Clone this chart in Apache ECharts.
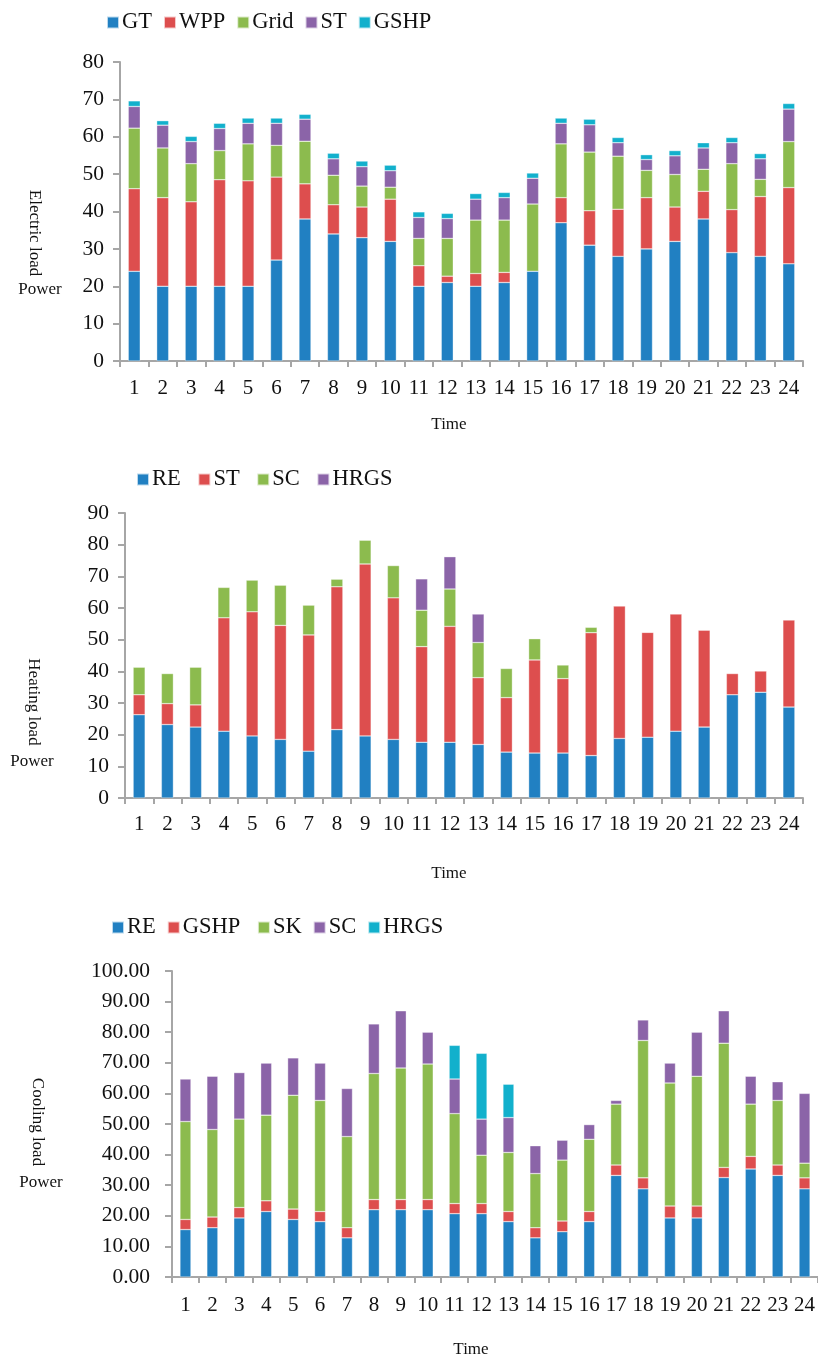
<!DOCTYPE html>
<html>
<head>
<meta charset="utf-8">
<title>Load Power</title>
<script src="https://cdn.jsdelivr.net/npm/echarts@6/dist/echarts.min.js"></script>
<style>
  html, body { margin: 0; padding: 0; background: #fff; }
  #main { width: 818px; height: 1358px; }
</style>
</head>
<body>
<div id="main"></div>
<script>
// hours 1..24
var hours = [];
for (var h = 1; h <= 24; h++) hours.push(String(h));

// electric load
var elecGT   = [24, 20, 20, 20, 20, 27, 38, 34, 33, 32, 20, 21, 20, 21, 24, 37, 31, 28, 30, 32, 38, 29, 28, 26];
var elecWPP  = [22.1, 23.7, 22.6, 28.5, 28.2, 22.2, 9.4, 7.8, 8.2, 11.3, 5.5, 1.7, 3.4, 2.7, 0, 6.7, 9.2, 12.6, 13.7, 9.2, 7.4, 11.5, 16.0, 20.4];
var elecGrid = [16.2, 13.3, 10.2, 7.8, 9.9, 8.5, 11.4, 7.9, 5.6, 3.2, 7.3, 10.1, 14.3, 14.0, 18.0, 14.4, 15.7, 14.2, 7.3, 8.7, 5.9, 12.3, 4.6, 12.3];
var elecST   = [5.8, 6.1, 5.9, 5.9, 5.5, 5.9, 5.9, 4.4, 5.2, 4.4, 5.6, 5.3, 5.6, 6.0, 6.9, 5.5, 7.3, 3.6, 2.9, 5.0, 5.7, 5.6, 5.5, 8.7];
var elecGSHP = [1.5, 1.2, 1.4, 1.4, 1.4, 1.4, 1.3, 1.5, 1.5, 1.5, 1.5, 1.4, 1.5, 1.4, 1.4, 1.4, 1.5, 1.4, 1.3, 1.4, 1.4, 1.4, 1.4, 1.5];

// heating load
var heatRE   = [26.3, 23.2, 22.4, 21.1, 19.6, 18.5, 14.8, 21.6, 19.6, 18.5, 17.6, 17.6, 16.9, 14.5, 14.2, 14.2, 13.4, 18.8, 19.2, 21.1, 22.4, 32.6, 33.4, 28.7];
var heatST   = [6.3, 6.6, 7.0, 35.8, 39.2, 36.0, 36.7, 45.1, 54.3, 44.7, 30.2, 36.6, 21.1, 17.2, 29.4, 23.5, 38.8, 41.8, 33.1, 37.0, 30.6, 6.7, 6.7, 27.5];
var heatSC   = [8.7, 9.5, 11.9, 9.6, 10.0, 12.7, 9.4, 2.4, 7.5, 10.2, 11.5, 11.8, 11.1, 9.2, 6.7, 4.3, 1.7, 0, 0, 0, 0, 0, 0, 0];
var heatHRGS = [0, 0, 0, 0, 0, 0, 0, 0, 0, 0, 9.9, 10.2, 9.0, 0, 0, 0, 0, 0, 0, 0, 0, 0, 0, 0];

// cooling load
var coolRE   = [15.5, 16.1, 19.3, 21.4, 18.8, 18.1, 12.8, 22.0, 22.0, 22.0, 20.7, 20.7, 18.1, 12.8, 14.8, 18.1, 33.2, 28.8, 19.3, 19.3, 32.5, 35.3, 33.2, 28.8];
var coolGSHP = [3.3, 3.5, 3.4, 3.5, 3.4, 3.3, 3.3, 3.3, 3.3, 3.3, 3.3, 3.3, 3.3, 3.3, 3.5, 3.3, 3.4, 3.6, 3.9, 3.9, 3.3, 4.1, 3.4, 3.6];
var coolSK   = [32.0, 28.6, 28.9, 28.0, 37.2, 36.3, 29.8, 41.2, 43.0, 44.3, 29.4, 15.8, 19.3, 17.7, 19.9, 23.6, 19.9, 44.9, 40.2, 42.4, 40.6, 17.1, 21.1, 4.8];
var coolSC   = [13.9, 17.4, 15.2, 17.0, 12.2, 12.2, 15.7, 16.2, 18.7, 10.4, 11.3, 11.8, 11.4, 9.1, 6.5, 4.8, 1.2, 6.7, 6.5, 14.4, 10.6, 9.1, 6.1, 22.8];
var coolHRGS = [0, 0, 0, 0, 0, 0, 0, 0, 0, 0, 11.0, 21.5, 10.9, 0, 0, 0, 0, 0, 0, 0, 0, 0, 0, 0];

var BLUE = '#2180c2', RED = '#dd4e4e', GREEN = '#8cbb4e', PURPLE = '#8b64a8', CYAN = '#12b0cc';
var FONT = '"Liberation Serif", "Times New Roman", serif';
var AXIS = '#a6a6a6';

function bar(name, data, color, idx, stack, w) {
  return {
    name: name, type: 'bar', stack: stack, barWidth: w,
    xAxisIndex: idx, yAxisIndex: idx,
    itemStyle: { color: color, borderColor: 'rgba(255,255,255,0.7)', borderWidth: 0.5 },
    data: data.map(function (v) { return v === 0 ? '-' : v; })
  };
}

function xAxis(idx, margin) {
  return {
    type: 'category', gridIndex: idx, data: hours,
    axisLine: { lineStyle: { color: AXIS, width: 2 } },
    axisTick: { show: true, length: 6, lineStyle: { color: AXIS, width: 2 } },
    axisLabel: { color: '#111', fontFamily: FONT, fontSize: 21, margin: margin, interval: 0 }
  };
}

function yAxis(idx, max, margin, dec) {
  return {
    type: 'value', gridIndex: idx, min: 0, max: max, interval: 10,
    splitLine: { show: false },
    axisLine: { show: true, lineStyle: { color: AXIS, width: 2 } },
    axisTick: { show: true, length: 7, lineStyle: { color: AXIS, width: 2 } },
    axisLabel: {
      color: '#111', fontFamily: FONT, fontSize: 21.5, margin: margin,
      formatter: function (v) { return dec ? v.toFixed(2) : v; }
    }
  };
}

function legend(idx, names, left, top) {
  return {
    data: names, left: left, top: top, icon: 'rect',
    itemWidth: 12, itemHeight: 12, itemGap: 11,
    textStyle: { color: '#111', fontFamily: FONT, fontSize: 22.5, padding: [0, 0, 0, -2] },
    selectedMode: false
  };
}

function label(text, x, y, rot) {
  return {
    type: 'text', x: x, y: y, rotation: rot || 0,
    style: { text: text, fill: '#111', font: '17px ' + FONT, textAlign: 'center', textVerticalAlign: 'middle' }
  };
}

var chart = echarts.init(document.getElementById('main'));
chart.setOption({
  animation: false,
  legend: [
    legend(0, ['GT', 'WPP', 'Grid', 'ST', 'GSHP'], 101, 6),
    legend(1, ['RE ', 'ST ', 'SC ', 'HRGS '], 131, 463),
    legend(2, ['RE', 'GSHP ', 'SK', 'SC', 'HRGS'], 106, 911)
  ],
  grid: [
    { left: 120, top: 62, width: 683, height: 299 },
    { left: 125, top: 513, width: 678, height: 285 },
    { left: 172, top: 971, width: 650, height: 306 }
  ],
  xAxis: [xAxis(0, 17), xAxis(1, 16), xAxis(2, 18)],
  yAxis: [yAxis(0, 80, 16, false), yAxis(1, 90, 16, false), yAxis(2, 100, 22, true)],
  series: [
    bar('GT', elecGT, BLUE, 0, 'e', 12),
    bar('WPP', elecWPP, RED, 0, 'e', 12),
    bar('Grid', elecGrid, GREEN, 0, 'e', 12),
    bar('ST', elecST, PURPLE, 0, 'e', 12),
    bar('GSHP', elecGSHP, CYAN, 0, 'e', 12),

    bar('RE ', heatRE, BLUE, 1, 'h', 12),
    bar('ST ', heatST, RED, 1, 'h', 12),
    bar('SC ', heatSC, GREEN, 1, 'h', 12),
    bar('HRGS ', heatHRGS, PURPLE, 1, 'h', 12),

    bar('RE', coolRE, BLUE, 2, 'c', 11),
    bar('GSHP ', coolGSHP, RED, 2, 'c', 11),
    bar('SK', coolSK, GREEN, 2, 'c', 11),
    bar('SC', coolSC, PURPLE, 2, 'c', 11),
    bar('HRGS', coolHRGS, CYAN, 2, 'c', 11)
  ],
  graphic: [
    label('Electric load', 34, 233, -Math.PI / 2),
    label('Power', 40, 290),
    label('Time', 449, 425),
    label('Heating load', 33, 702, -Math.PI / 2),
    label('Power', 32, 762),
    label('Time', 449, 874),
    label('Cooling load', 37, 1122, -Math.PI / 2),
    label('Power', 41, 1183),
    label('Time', 471, 1350)
  ]
});
</script>
</body>
</html>
